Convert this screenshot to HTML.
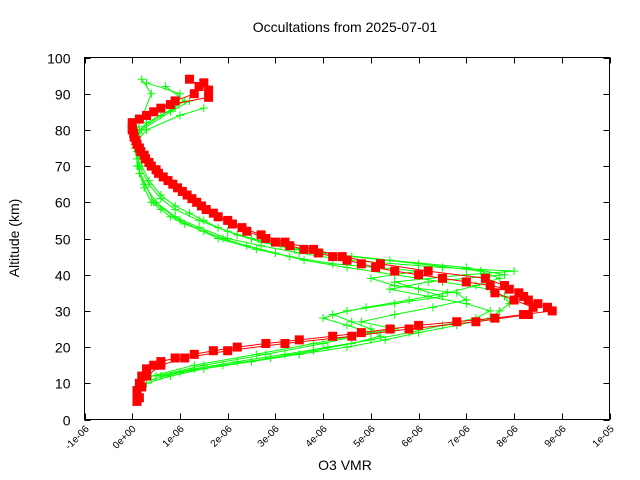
<!DOCTYPE html>
<html><head><meta charset="utf-8">
<style>
body{margin:0;background:#fff;}
svg{display:block;font-family:"Liberation Sans",sans-serif;}
</style></head>
<body>
<svg id="chart" width="640" height="480" viewBox="0 0 640 480" xmlns="http://www.w3.org/2000/svg">
<rect width="640" height="480" fill="#fff"/>
<text x="345" y="32" font-size="14" text-anchor="middle">Occultations from 2025-07-01</text>
<text x="345" y="470" font-size="14" text-anchor="middle">O3 VMR</text>
<text transform="translate(19,238) rotate(-90)" font-size="14" text-anchor="middle">Altitude (km)</text>
<g id="data-layer"></g>
<g id="axes-layer"></g>
</svg>
<script>
const xTicks=[-1e-6,0,1e-6,2e-6,3e-6,4e-6,5e-6,6e-6,7e-6,8e-6,9e-6,1e-5];
const xTickLabels=["-1e-06","0e+00","1e-06","2e-06","3e-06","4e-06","5e-06","6e-06","7e-06","8e-06","9e-06","1e-05"];
const yTicks=[0,10,20,30,40,50,60,70,80,90,100];
// red profiles (altitude km, VMR in 1e-6)
const red1Alt=[5,6,8,10,12,14,15,16,17,18,19,20,21,22,23,24,25,26,27,28,29,30,31,32,33,34,35,36,37,38,39,40,41,42,43,44,45,46,47,48,49,50,52,54,56,58,60,62,64,66,68,70,72,74,76,78,80,82,84,86,88,90,92,94];
const red1Vmr=[0.1,0.1,0.1,0.15,0.2,0.3,0.45,0.6,0.9,1.3,1.7,2.2,2.8,3.5,4.2,4.8,5.4,6.0,6.8,7.6,8.2,8.8,8.7,8.5,8.3,8.2,8.1,7.9,7.5,7.0,6.5,6.0,5.5,5.1,4.8,4.5,4.2,3.9,3.6,3.3,3.0,2.8,2.4,2.1,1.8,1.55,1.35,1.15,0.95,0.75,0.55,0.4,0.28,0.18,0.1,0.04,0.0,0.0,0.3,0.6,0.9,1.3,1.4,1.2];
const red2Alt=[6,9,12,15,17,19,21,23,25,27,29,31,33,35,37,39,41,43,45,47,49,51,53,55,57,59,61,63,65,67,69,71,73,75,77,79,81,83,85,87,89,91,93];
const red2Vmr=[0.15,0.2,0.3,0.6,1.1,2.0,3.2,4.6,5.8,7.2,8.3,8.4,8.0,7.6,7.8,7.4,6.2,5.2,4.4,3.8,3.2,2.7,2.3,2.0,1.7,1.45,1.25,1.05,0.85,0.65,0.5,0.35,0.25,0.15,0.08,0.03,0.0,0.15,0.45,0.8,1.6,1.6,1.5];
const green1Alt=[10,12,14,16,18,20,22,24,26,28,30,32,34,36,38,40,42,44,46,48,50,52,54,56,58,60,64,68,72,76,80,84,86];
const green1Vmr=[0.3,0.8,1.5,2.5,3.5,4.5,5.3,6.0,6.8,7.5,7.7,7.9,7.8,7.5,6.5,5.5,4.5,3.6,3.0,2.4,1.9,1.5,1.1,0.8,0.6,0.4,0.25,0.15,0.1,0.05,0.3,1.0,1.5];
const green2Alt=[12,15,18,21,24,26,28,30,32,34,36,38,40,41,42,44,46,48,50,53,56,60,65,70,75,80,85,88];
const green2Vmr=[0.5,1.5,2.8,4.0,5.0,4.5,4.0,4.5,5.5,6.5,6.0,5.5,7.0,8.0,6.5,4.5,3.5,2.7,2.0,1.4,0.9,0.5,0.25,0.12,0.05,0.2,0.8,1.2];
const green3Alt=[12,15,18,21,23,25,27,29,31,33,35,37,39,41,43,45,47,50,55,60,70,80,90,94];
const green3Vmr=[0.4,1.3,2.6,3.8,4.6,5.5,4.8,5.5,6.3,7.0,6.8,5.5,5.0,6.0,4.2,3.3,2.6,1.8,1.0,0.45,0.1,0.1,0.4,0.2];
const green4Alt=[11,13,15,17,19,21,23,25,27,29,31,33,35,37,39,41,43,45,47,49,51,53,55,57,59,62,66,70,74,78,82,86,90,93];
const green4Vmr=[0.4,1.0,1.9,2.9,3.8,4.6,5.2,5.0,4.6,4.2,4.9,5.8,6.6,7.2,7.7,7.3,6.0,4.6,3.4,2.7,2.2,1.8,1.5,1.2,0.9,0.6,0.35,0.2,0.1,0.05,0.3,0.9,1.0,0.3];
const green5Alt=[12,14,16,18,20,22,24,26,28,30,32,34,36,38,40,42,44,46,48,50,52,55,58,61,65,70,75,80,84,88,92];
const green5Vmr=[0.6,1.3,2.2,3.2,4.1,5.0,5.8,6.5,7.2,7.5,7.0,6.2,5.4,6.2,7.8,7.0,5.4,4.0,3.1,2.5,2.0,1.4,0.9,0.6,0.35,0.15,0.08,0.15,0.6,1.1,0.7];

const L=84.5,R=609.5,T=57.5,B=419.5;
const xMin=-1e-6,xMax=1e-5;
function X(v){return L+(v-xMin)/(xMax-xMin)*(R-L);}
function Y(a){return B-a/100*(B-T);}
const NS="http://www.w3.org/2000/svg";
const dl=document.getElementById('data-layer'),al=document.getElementById('axes-layer');
function mk(tag,attrs,parent){const e=document.createElementNS(NS,tag);for(const k in attrs)e.setAttribute(k,attrs[k]);parent.appendChild(e);return e;}

function drawGreen(alt,vmr,name){
  const pts=alt.map((a,i)=>X(vmr[i]*1e-6).toFixed(1)+","+Y(a).toFixed(1)).join(" ");
  const pl=mk('polyline',{points:pts,fill:'none',stroke:'#00ff00','stroke-width':1},dl);
  
  
  alt.forEach((a,i)=>{
    const x=X(vmr[i]*1e-6),y=Y(a);
    const p=mk('path',{d:`M${x-4},${y}h8M${x},${y-4}v8`,stroke:'#00ff00','stroke-width':1},dl);
    
    
  });
}
drawGreen(green1Alt,green1Vmr,'green-profile-1');
drawGreen(green2Alt,green2Vmr,'green-profile-2');
drawGreen(green3Alt,green3Vmr,'green-profile-3');
drawGreen(green4Alt,green4Vmr,'green-profile-4');
drawGreen(green5Alt,green5Vmr,'green-profile-5');

function drawRed(alt,vmr,name){
  const pts=alt.map((a,i)=>X(vmr[i]*1e-6).toFixed(1)+","+Y(a).toFixed(1)).join(" ");
  const pl=mk('polyline',{points:pts,fill:'none',stroke:'#ff0000','stroke-width':1},dl);
  
  
  alt.forEach((a,i)=>{
    const x=X(vmr[i]*1e-6),y=Y(a);
    const r=mk('rect',{x:x-4.5,y:y-4.5,width:9,height:9,fill:'#ff0000'},dl);
    
    
  });
}
drawRed(red1Alt,red1Vmr,'red-profile-1');
drawRed(red2Alt,red2Vmr,'red-profile-2');

const frame=mk('rect',{x:L,y:T,width:R-L,height:B-T,fill:'none',stroke:'#000','stroke-width':1},al);


xTicks.forEach((v,i)=>{
  const x=Math.round(X(v))+0.5;
  const t=mk('path',{d:`M${x},${B}v-6M${x},${T}v6`,stroke:'#000'},al);
  
  
  const lb=mk('text',{x:x+4,y:B+10,'font-size':10,'text-anchor':'end',transform:`rotate(-45 ${x+4} ${B+10})`},al);
  lb.textContent=xTickLabels[i];
  
  
});
yTicks.forEach(v=>{
  const y=Math.round(Y(v))+0.5;
  const t=mk('path',{d:`M${L},${y}h6M${R},${y}h-6`,stroke:'#000'},al);
  
  
  const lb=mk('text',{x:L-14,y:y+5,'font-size':14,'text-anchor':'end'},al);
  lb.textContent=String(v);
  
  
});
</script>
</body></html>
